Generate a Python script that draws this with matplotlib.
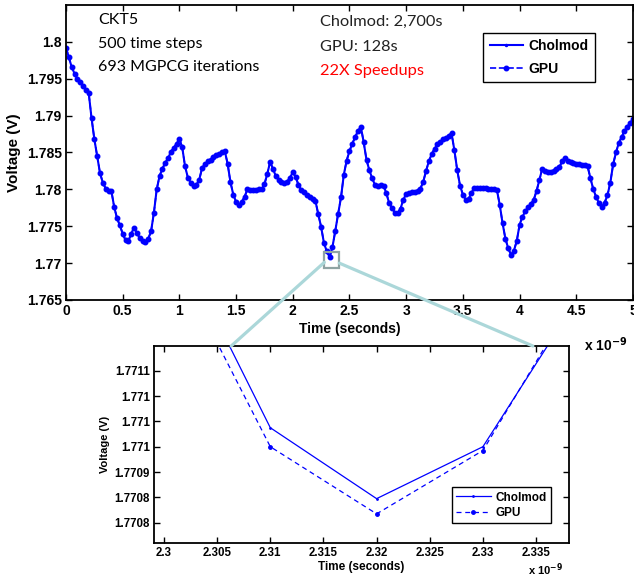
import matplotlib.pyplot as plt
from matplotlib.patches import Rectangle, ConnectionPatch

plt.rcParams['font.family'] = ['Liberation Sans', 'DejaVu Sans']
plt.rcParams['mathtext.default'] = 'bf'

# main waveform, time in units of 1e-9 s (step 0.025)
t_main = [i * 0.025 for i in range(201)]
v_main = [
    1.7992, 1.7979, 1.7966, 1.7957, 1.7950, 1.7945, 1.7940, 1.7935, 1.7931, 1.7897,
    1.7868, 1.7845, 1.7822, 1.7809, 1.7801, 1.7798, 1.7798, 1.7776, 1.7761, 1.7751,
    1.7740, 1.7731, 1.7730, 1.7740, 1.7748, 1.7741, 1.7734, 1.7730, 1.7729, 1.7733,
    1.7743, 1.7768, 1.7800, 1.7818, 1.7828, 1.7836, 1.7842, 1.7851, 1.7856, 1.7862,
    1.7868, 1.7857, 1.7831, 1.7816, 1.7809, 1.7804, 1.7806, 1.7813, 1.7829, 1.7834,
    1.7838, 1.7840, 1.7844, 1.7846, 1.7848, 1.7850, 1.7852, 1.7835, 1.7810, 1.7793,
    1.7783, 1.7779, 1.7783, 1.7790, 1.7800, 1.7799, 1.7799, 1.7799, 1.7800, 1.7800,
    1.7807, 1.7821, 1.7837, 1.7828, 1.7818, 1.7813, 1.7810, 1.7809, 1.7810, 1.7816,
    1.7823, 1.7817, 1.7806, 1.7799, 1.7796, 1.7792, 1.7790, 1.7787, 1.7784, 1.7766,
    1.7749, 1.7727, 1.7716, 1.7708, 1.7722, 1.7744, 1.7767, 1.7789, 1.7820, 1.7839,
    1.7852, 1.7862, 1.7871, 1.7879, 1.7885, 1.7864, 1.7840, 1.7826, 1.7815, 1.7806,
    1.7804, 1.7806, 1.7805, 1.7795, 1.7781, 1.7775, 1.7768, 1.7768, 1.7774, 1.7786,
    1.7794, 1.7795, 1.7796, 1.7797, 1.7798, 1.7801, 1.7810, 1.7825, 1.7838, 1.7848,
    1.7855, 1.7861, 1.7864, 1.7868, 1.7870, 1.7873, 1.7876, 1.7853, 1.7826, 1.7805,
    1.7793, 1.7786, 1.7787, 1.7795, 1.7802, 1.7802, 1.7802, 1.7802, 1.7802, 1.7801,
    1.7801, 1.7800, 1.7799, 1.7779, 1.7754, 1.7733, 1.7720, 1.7711, 1.7717, 1.7730,
    1.7752, 1.7763, 1.7770, 1.7776, 1.7780, 1.7786, 1.7798, 1.7813, 1.7828, 1.7825,
    1.7824, 1.7824, 1.7825, 1.7827, 1.7830, 1.7838, 1.7843, 1.7839, 1.7837, 1.7836,
    1.7835, 1.7834, 1.7833, 1.7833, 1.7831, 1.7815, 1.7800, 1.7790, 1.7781, 1.7776,
    1.7782, 1.7792, 1.7809, 1.7834, 1.7850, 1.7863, 1.7871, 1.7879, 1.7885, 1.7890,
    1.7895,
]

# zoomed-in detail around the minimum
t_zoom = [2.30, 2.31, 2.32, 2.33, 2.34]
v_cholmod = [1.771023, 1.770855, 1.770799, 1.770840, 1.770971]
v_gpu = [1.771004, 1.770840, 1.770787, 1.770837, 1.770977]

main_xticks = [0, 0.5, 1, 1.5, 2, 2.5, 3, 3.5, 4, 4.5, 5]
main_yticks = [1.765, 1.77, 1.775, 1.78, 1.785, 1.79, 1.795, 1.8]
zoom_xticks = [2.3, 2.305, 2.31, 2.315, 2.32, 2.325, 2.33, 2.335]
zoom_yticks = [1.77078, 1.77080, 1.77082, 1.77084, 1.77086, 1.77088, 1.77090]
zoom_ylabels = ['1.7708', '1.7708', '1.7709', '1.771', '1.771', '1.771', '1.7711']

info_left = ['CKT5', '500 time steps', '693 MGPCG iterations']
info_right = ['Cholmod: 2,700s', 'GPU: 128s', '22X Speedups']

fig = plt.figure(figsize=(6.34, 5.79), dpi=100)
ax = fig.add_axes([0.1041, 0.4819, 0.8943, 0.5095])
ax2 = fig.add_axes([0.2429, 0.0622, 0.6546, 0.3402])

# main plot
ax.plot(t_main, v_main, '-', color='b', lw=1.5, marker='.', ms=3, label='Cholmod')
ax.plot(t_main, v_main, '--', color='b', lw=1.2, marker='.', ms=6.5, label='GPU')
ax.set_xlim(0, 5)
ax.set_ylim(1.765, 1.805)
ax.set_xticks(main_xticks)
ax.set_xticklabels(['%g' % x for x in main_xticks])
ax.set_yticks(main_yticks)
ax.set_yticklabels(['%g' % y for y in main_yticks])
ax.set_xlabel('Time (seconds)', fontsize=10, fontweight='bold', labelpad=3)
ax.set_ylabel('Voltage (V)', fontsize=11, fontweight='bold', labelpad=4)
ax.text(0.99, -0.15, r'x 10$^{-9}$', transform=ax.transAxes, ha='right', va='center',
        fontsize=10, fontweight='bold')
leg = ax.legend(loc='upper right', bbox_to_anchor=(0.933, 0.905), borderaxespad=0,
                fancybox=False, edgecolor='black', framealpha=1, handlelength=2.4,
                handletextpad=0.4, labelspacing=0.6, borderpad=0.45,
                prop={'weight': 'bold', 'size': 10})
leg.get_frame().set_linewidth(1)

for i, s in enumerate(info_left):
    ax.text(0.0564, 0.949 - i * 0.08, s, transform=ax.transAxes, va='center',
            fontsize=11.5, family='Lato')
for i, s in enumerate(info_right):
    ax.text(0.448, 0.942 - i * 0.083, s, transform=ax.transAxes, va='center',
            fontsize=11.8, family='Lato', color='red' if i == 2 else '#222222')

# zoom box and connector lines
ax.add_patch(Rectangle((2.278, 1.76928), 0.132, 0.00217, fill=False,
                       edgecolor='#8fa3a3', lw=1.6, zorder=5))
for (xa, ya), xb in [((2.278, 1.7701), 0.186), ((2.410, 1.7700), 0.913)]:
    con = ConnectionPatch(xyA=(xa, ya), coordsA=ax.transData,
                          xyB=(xb, 1.0), coordsB=ax2.transAxes,
                          color='#abd7d9', lw=2.3, zorder=10)
    fig.add_artist(con)

# inset plot
ax2.plot(t_zoom, v_cholmod, '-', color='b', lw=0.9, marker='.', ms=2, label='Cholmod')
ax2.plot(t_zoom, v_gpu, '--', color='b', lw=0.9, marker='.', ms=5,
         dashes=(4, 3), label='GPU')
ax2.set_xlim(2.29906, 2.3381)
ax2.set_ylim(1.770764, 1.7709195)
ax2.set_xticks(zoom_xticks)
ax2.set_xticklabels(['%g' % x for x in zoom_xticks])
ax2.set_yticks(zoom_yticks)
ax2.set_yticklabels(zoom_ylabels)
ax2.set_xlabel('Time (seconds)', fontsize=8.5, fontweight='bold', labelpad=1)
ax2.set_ylabel('Voltage (V)', fontsize=8, fontweight='bold', labelpad=3)
ax2.text(0.986, -0.137, r'x 10$^{-9}$', transform=ax2.transAxes, ha='right', va='center',
         fontsize=8, fontweight='bold')
leg2 = ax2.legend(loc='lower right', bbox_to_anchor=(0.957, 0.10), borderaxespad=0,
                  fancybox=False, edgecolor='black', framealpha=1, handlelength=3.0,
                  handletextpad=0.4, labelspacing=0.3, borderpad=0.35,
                  prop={'weight': 'bold', 'size': 8.5})
leg2.get_frame().set_linewidth(1)

for a, fs in [(ax, 10), (ax2, 8.3)]:
    a.tick_params(direction='in', top=True, right=True, length=4, width=1,
                  labelsize=fs, pad=3)
    for lab in a.get_xticklabels() + a.get_yticklabels():
        lab.set_fontweight('bold')
    for sp in a.spines.values():
        sp.set_linewidth(1.3)

fig.savefig('out.png', dpi=100)
